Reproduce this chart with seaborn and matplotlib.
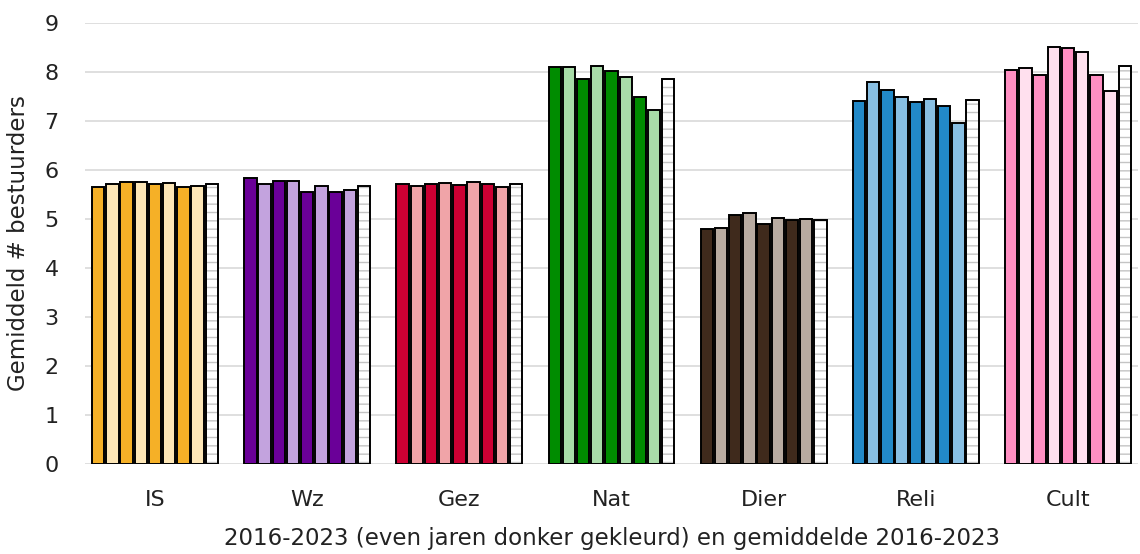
import matplotlib
matplotlib.use("Agg")
import matplotlib.pyplot as plt
import seaborn as sns
import pandas as pd
from matplotlib.patches import Rectangle

categories = ["IS", "Wz", "Gez", "Nat", "Dier", "Reli", "Cult"]
slots = ["2016", "2017", "2018", "2019", "2020", "2021", "2022", "2023", "gem. 2016-2023"]

IS   = [5.66, 5.71, 5.76, 5.76, 5.71, 5.73, 5.65, 5.67, 5.71]
Wz   = [5.84, 5.71, 5.77, 5.78, 5.56, 5.67, 5.55, 5.59, 5.68]
Gez  = [5.71, 5.67, 5.71, 5.73, 5.70, 5.76, 5.71, 5.66, 5.71]
Nat  = [8.11, 8.11, 7.86, 8.13, 8.03, 7.89, 7.50, 7.22, 7.85]
Dier = [4.79, 4.81, 5.08, 5.12, 4.89, 5.03, 4.98, 5.01, 4.97]
Reli = [7.41, 7.80, 7.64, 7.49, 7.38, 7.45, 7.30, 6.96, 7.43]
Cult = [8.05, 8.09, 7.93, 8.52, 8.48, 8.40, 7.93, 7.61, 8.12]

dark_colors  = ["#F5B027", "#6A0098", "#CC0033", "#008C00", "#3F2A1C", "#2289C8", "#FF8FC2"]
light_colors = ["#FDE6B6", "#C3A3DE", "#F0A4A8", "#A8DCA8", "#B8ABA1", "#88BFE3", "#FFE0EE"]

ylabel = "Gemiddeld # bestuurders"
xlabel = "2016-2023 (even jaren donker gekleurd) en gemiddelde 2016-2023"

values = [IS, Wz, Gez, Nat, Dier, Reli, Cult]
rows = []
for c, vals in zip(categories, values):
    for s, v in zip(slots, vals):
        rows.append({"cat": c, "slot": s, "val": v})
df = pd.DataFrame(rows)

sns.set_theme(style="white")
plt.rcParams["font.family"] = ["DejaVu Sans"]
plt.rcParams["hatch.linewidth"] = 1.0

fig = plt.figure(figsize=(11.4, 5.54), dpi=100)
ax = fig.add_axes([85 / 1140, 1 - 464 / 554, 1053 / 1140, (464 - 23) / 554])

sns.barplot(data=df, x="cat", y="val", hue="slot", order=categories,
            hue_order=slots, width=0.84, gap=0.13, ax=ax, legend=False,
            errorbar=None, edgecolor="black", linewidth=1.4)

for si, cont in enumerate(ax.containers):
    for ci, bar in enumerate(cont):
        if si == len(slots) - 1:
            bar.set_facecolor("white")
            bar.set_edgecolor("#c4c4c4")
            bar.set_hatch("--")
            bar.set_linewidth(0)
            ax.add_patch(Rectangle((bar.get_x(), bar.get_y()), bar.get_width(),
                                   bar.get_height(), fill=False,
                                   edgecolor="black", linewidth=1.4, zorder=3))
        else:
            bar.set_facecolor(dark_colors[ci] if si % 2 == 0 else light_colors[ci])

ax.set_ylim(0, 9)
ax.set_xlim(-0.46, 6.46)
ax.set_yticks(range(0, 10))
ax.yaxis.grid(True, color="#d9d9d9", linewidth=1.2)
ax.set_axisbelow(True)
for sp in ax.spines.values():
    sp.set_visible(False)
ax.tick_params(axis="both", length=0, labelsize=16, colors="#222222")
ax.tick_params(axis="x", pad=19)
ax.tick_params(axis="y", pad=19)
ax.set_xlabel(xlabel, fontsize=16.5, color="#222222", labelpad=12)
ax.set_ylabel(ylabel, fontsize=16.5, color="#222222", labelpad=10)

fig.savefig("out.png", dpi=100)
